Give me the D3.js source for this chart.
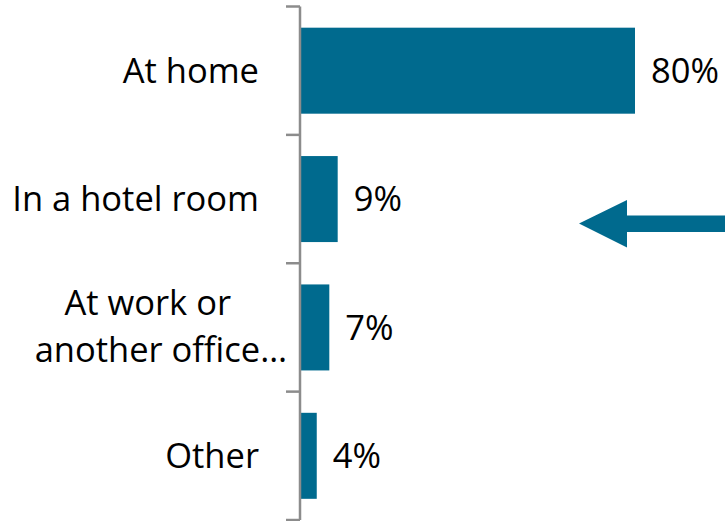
<!DOCTYPE html>
<html>
<head>
<meta charset="utf-8">
<script src="https://cdn.jsdelivr.net/npm/d3@7/dist/d3.min.js"></script>
<style>
  html, body { margin: 0; padding: 0; background: #fff; }
  svg text { font-family: "Open Sans", Lato, sans-serif; fill: #000; }
</style>
</head>
<body>
<svg id="chart" width="725" height="521"></svg>
<script>
// Where the work is done
const categories = ["At home", "In a hotel room", "At work or|another office…", "Other"];
const values = [80, 9, 7, 4];
const valueLabels = ["80%", "9%", "7%", "4%"];

const svg = d3.select("#chart");
const barColor = "#006a8e";
const axisColor = "#8c8c8c";
const fontSize = 34.5;

const y = d3.scaleBand()
  .domain(categories)
  .range([6.5, 520])
  .paddingInner(0.33)
  .paddingOuter(0.165);

const x = d3.scaleLinear()
  .domain([0, 80])
  .range([300, 635]);

// Bars
svg.append("g").selectAll("rect")
  .data(categories)
  .join("rect")
  .attr("x", x(0))
  .attr("y", d => y(d))
  .attr("width", (d, i) => x(values[i]) - x(0))
  .attr("height", y.bandwidth())
  .attr("fill", barColor);

// Category axis: vertical line with tick marks between categories
const step = y.step();
const start = y.range()[0];
const tickYs = d3.range(categories.length + 1).map(i => start + i * step);
const axis = svg.append("g");
axis.append("line")
  .attr("x1", x(0)).attr("x2", x(0))
  .attr("y1", tickYs[0]).attr("y2", tickYs[tickYs.length - 1])
  .attr("stroke", axisColor).attr("stroke-width", 2.5);
axis.selectAll("line.tick")
  .data(tickYs)
  .join("line")
  .attr("class", "tick")
  .attr("x1", x(0) - 14).attr("x2", x(0))
  .attr("y1", d => d).attr("y2", d => d)
  .attr("stroke", axisColor).attr("stroke-width", 2.5);

// Category labels (the wrapped one keeps its uneven line ends)
const labels = svg.append("g").selectAll("text")
  .data(categories)
  .join("text")
  .attr("text-anchor", "end")
  .attr("font-size", fontSize)
  .attr("y", d => y(d) + y.bandwidth() / 2);
labels.each(function(d) {
  const lines = d.split("|");
  const t = d3.select(this);
  if (lines.length === 1) {
    t.append("tspan").attr("x", 259).attr("dy", "0.36em").text(lines[0]);
  } else {
    t.append("tspan").attr("x", 231).attr("dy", -12).text(lines[0]);
    t.append("tspan").attr("x", 287).attr("dy", 46.5).text(lines[1]);
  }
});

// Value labels
svg.append("g").selectAll("text")
  .data(categories)
  .join("text")
  .attr("font-size", fontSize)
  .attr("x", (d, i) => x(values[i]) + 16)
  .attr("y", d => y(d) + y.bandwidth() / 2)
  .attr("dy", "0.36em")
  .text((d, i) => valueLabels[i]);

// Left-pointing arrow
const arrow = d3.path();
arrow.moveTo(579, 223.5);
arrow.lineTo(627, 200);
arrow.lineTo(627, 215.5);
arrow.lineTo(725, 215.5);
arrow.lineTo(725, 232);
arrow.lineTo(627, 232);
arrow.lineTo(627, 247.5);
arrow.closePath();
svg.append("path").attr("d", arrow.toString()).attr("fill", barColor);
</script>
</body>
</html>
